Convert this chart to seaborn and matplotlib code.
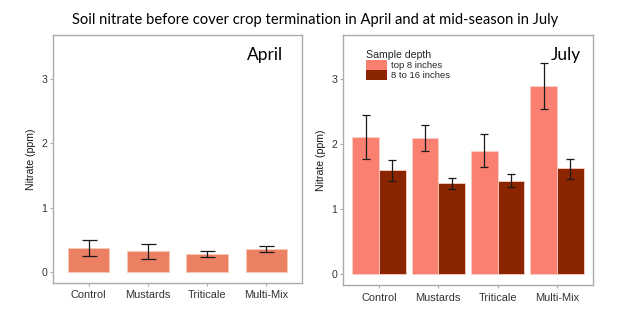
import matplotlib.pyplot as plt
import pandas as pd
import seaborn as sns

# Values
crops = ["Control", "Mustards", "Triticale", "Multi-Mix"]

april_mean = [0.38, 0.33, 0.28, 0.36]
april_low = [0.25, 0.20, 0.23, 0.31]
april_high = [0.50, 0.43, 0.33, 0.41]

depths = ["top 8 inches", "8 to 16 inches"]
july_top_mean = [2.12, 2.10, 1.90, 2.90]
july_top_low = [1.78, 1.90, 1.65, 2.55]
july_top_high = [2.46, 2.30, 2.16, 3.25]
july_deep_mean = [1.60, 1.40, 1.44, 1.63]
july_deep_low = [1.44, 1.32, 1.34, 1.46]
july_deep_high = [1.76, 1.49, 1.55, 1.78]

april_color = "#EC8062"
depth_colors = {"top 8 inches": "#FA8072", "8 to 16 inches": "#8B2500"}

sns.set_theme(style="white")
plt.rcParams["font.family"] = ["Liberation Sans", "DejaVu Sans"]

fig = plt.figure(figsize=(6.4, 3.19), dpi=100)
ax_a = fig.add_axes([0.0828, 0.1129, 0.389, 0.7774])
ax_j = fig.add_axes([0.5364, 0.1056, 0.3897, 0.7837])

april = pd.DataFrame({"crop": crops, "nitrate": april_mean})
july = pd.DataFrame({
    "crop": crops * 2,
    "depth": [depths[0]] * 4 + [depths[1]] * 4,
    "nitrate": july_top_mean + july_deep_mean,
})

sns.barplot(data=april, x="crop", y="nitrate", color=april_color, width=0.7,
            saturation=1, edgecolor="#F6C9B9", linewidth=0.6, ax=ax_a)
sns.barplot(data=july, x="crop", y="nitrate", hue="depth", hue_order=depths,
            palette=depth_colors, width=0.9, saturation=1, edgecolor="#F8D0C8",
            linewidth=0.6, ax=ax_j)

err_kw = dict(fmt="none", ecolor="#1a1a1a", elinewidth=0.9, capthick=0.9)

# error bars placed at the bar centres the library computed
bars = ax_a.containers[0]
xs = [b.get_x() + b.get_width() / 2 for b in bars]
ax_a.errorbar(xs, april_mean,
              yerr=[[m - l for m, l in zip(april_mean, april_low)],
                    [h - m for m, h in zip(april_mean, april_high)]],
              capsize=5.4, **err_kw)

for cont, mean, low, high in [
    (ax_j.containers[0], july_top_mean, july_top_low, july_top_high),
    (ax_j.containers[1], july_deep_mean, july_deep_low, july_deep_high),
]:
    xs = [b.get_x() + b.get_width() / 2 for b in cont]
    ax_j.errorbar(xs, mean,
                  yerr=[[m - l for m, l in zip(mean, low)],
                        [h - m for m, h in zip(mean, high)]],
                  capsize=2.8, **err_kw)

for ax in (ax_a, ax_j):
    ax.set_xlim(-0.6, 3.6)
    ax.set_ylim(-0.17, 3.68)
    ax.set_yticks([0, 1, 2, 3])
    ax.set_xlabel("")
    ax.set_ylabel("Nitrate (ppm)", fontsize=7.6, color="#1a1a1a", labelpad=4)
    for s in ax.spines.values():
        s.set_visible(True)
        s.set_color("#ABABAB")
        s.set_linewidth(1.0)
    ax.tick_params(axis="both", length=2.2, width=0.8, color="#ABABAB",
                   labelsize=7.6, labelcolor="#333333", pad=2, direction="out")
    ax.tick_params(axis="x", labelsize=7.9, pad=3)
    ax.tick_params(left=True, bottom=True)

ax_a.text(0.779, 0.919, "April", transform=ax_a.transAxes, fontsize=12.5,
          family="Lato", va="center", ha="left", color="black")
ax_j.text(0.833, 0.921, "July", transform=ax_j.transAxes, fontsize=12.5,
          family="Lato", va="center", ha="left", color="black")

leg = ax_j.legend(title="Sample depth", loc="upper left",
                  bbox_to_anchor=(0.072, 0.962), frameon=False, fontsize=6.8,
                  title_fontsize=7.6, borderpad=0, labelspacing=0.0,
                  handlelength=2.2, handleheight=1.3, handletextpad=0.45,
                  alignment="left")
for h in leg.legend_handles:
    h.set_edgecolor("none")

fig.text(0.493, 0.938, "Soil nitrate before cover crop termination in April "
         "and at mid-season in July", ha="center", va="center",
         fontsize=10.6, family="Lato", color="black")

fig.savefig("out.png", dpi=100)
